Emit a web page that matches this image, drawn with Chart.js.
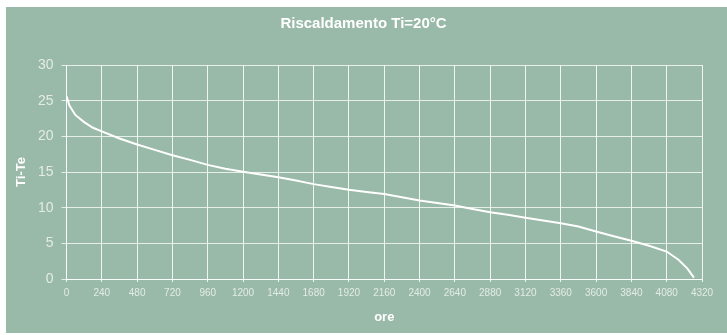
<!DOCTYPE html>
<html>
<head>
<meta charset="utf-8">
<script src="https://cdn.jsdelivr.net/npm/chart.js@4/dist/chart.umd.min.js"></script>
<style>
  html, body { margin: 0; padding: 0; background: #ffffff; }
  canvas { display: block; }
</style>
</head>
<body>
<canvas id="c" width="727" height="335"></canvas>
<script>
// Curva di durata: ore di riscaldamento ordinate per differenza Ti-Te decrescente
const ore = [0, 20, 60, 120, 180, 240, 360, 480, 600, 720, 840, 960, 1080, 1200,
  1320, 1440, 1560, 1680, 1800, 1920, 2040, 2160, 2280, 2400, 2520, 2640, 2760,
  2880, 3000, 3120, 3240, 3360, 3480, 3600, 3720, 3840, 3960, 4080, 4160, 4220, 4265];
const deltaT = [25.6, 24.3, 23.0, 22.0, 21.2, 20.7, 19.7, 18.85, 18.1, 17.35, 16.7,
  16.0, 15.45, 15.05, 14.65, 14.25, 13.8, 13.3, 12.9, 12.5, 12.2, 11.9, 11.45, 11.0,
  10.65, 10.3, 9.8, 9.35, 9.0, 8.6, 8.2, 7.8, 7.35, 6.65, 6.0, 5.35, 4.65, 3.85,
  2.7, 1.5, 0.2];

const titolo = 'Riscaldamento Ti=20°C';
const titoloX = 'ore';
const titoloY = 'Ti-Te';

const sfondo = '#99baa8';
const testo = '#e4ebe6';

// Riquadro verde dietro al grafico (bordo bianco in alto e a sinistra) e titolo centrato
const pannello = {
  id: 'pannello',
  beforeDraw(chart) {
    const ctx = chart.ctx;
    ctx.save();
    ctx.fillStyle = '#ffffff';
    ctx.fillRect(0, 0, chart.width, chart.height);
    ctx.fillStyle = sfondo;
    ctx.fillRect(6, 7, chart.width - 6, chart.height - 9);
    ctx.restore();
  },
  afterDraw(chart) {
    const ctx = chart.ctx;
    ctx.save();
    ctx.fillStyle = '#ffffff';
    ctx.font = 'bold 15px "Liberation Sans"';
    ctx.textAlign = 'center';
    ctx.textBaseline = 'middle';
    ctx.fillText(titolo, chart.width / 2, 24);
    ctx.restore();
  }
};

new Chart(document.getElementById('c'), {
  type: 'line',
  data: {
    datasets: [{
      data: ore.map((x, i) => ({ x, y: deltaT[i] })),
      borderColor: '#ffffff',
      borderWidth: 2,
      pointRadius: 0,
      tension: 0,
      fill: false
    }]
  },
  options: {
    responsive: false,
    animation: false,
    devicePixelRatio: 1,
    layout: { padding: { left: 0, right: 25, top: 65, bottom: 0 } },
    plugins: {
      legend: { display: false },
      tooltip: { enabled: false },
      title: { display: false }
    },
    scales: {
      x: {
        type: 'linear',
        min: 0,
        max: 4320,
        ticks: {
          stepSize: 240,
          color: testo,
          font: { family: 'Liberation Sans', size: 10 },
          padding: 5,
          maxRotation: 0,
          autoSkip: false,
          callback: (v) => String(v)
        },
        grid: { color: 'rgba(255,255,255,0.85)', lineWidth: 1, tickLength: 3 },
        border: { color: 'rgba(255,255,255,0.85)' },
        title: {
          display: true,
          text: titoloX,
          color: '#ffffff',
          font: { family: 'Liberation Sans', size: 13, weight: 'bold' },
          padding: { top: 0, bottom: 10 }
        },
        afterFit(scale) { scale.height = 56; }
      },
      y: {
        min: 0,
        max: 30,
        ticks: {
          stepSize: 5,
          color: testo,
          font: { family: 'Liberation Sans', size: 14 },
          padding: 8
        },
        grid: { color: 'rgba(255,255,255,0.75)', lineWidth: 1, tickLength: 5 },
        border: { color: 'rgba(255,255,255,0.85)' },
        title: {
          display: true,
          text: titoloY,
          color: '#ffffff',
          font: { family: 'Liberation Sans', size: 13, weight: 'bold' },
          padding: { top: 14, bottom: 0 }
        },
        afterFit(scale) { scale.width = 66.5; }
      }
    }
  },
  plugins: [pannello]
});
</script>
</body>
</html>
